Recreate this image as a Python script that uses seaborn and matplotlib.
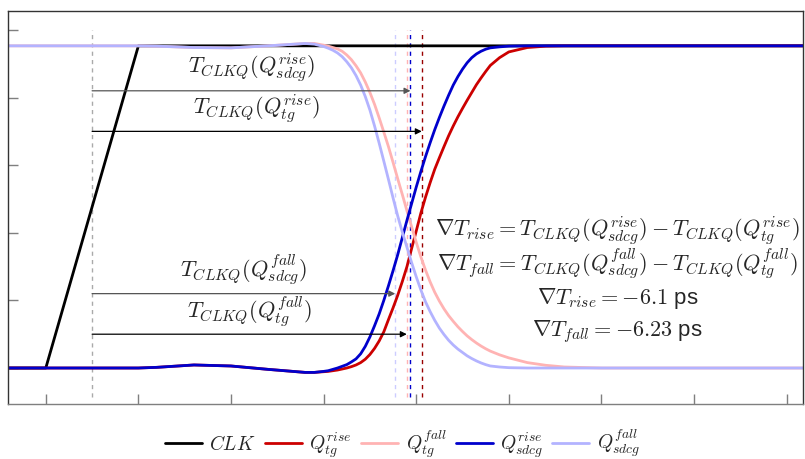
"""CLK-to-Q delay comparison: TG vs SDCG flip-flop waveforms."""

import matplotlib

matplotlib.use("Agg")
import matplotlib.pyplot as plt
import pandas as pd
import seaborn as sns

# time axis (ps) shared by the four Q waveforms
T_GRID = [-20, 0, 50, 60, 80, 100, 120, 140, 145,
          150, 152.5, 155, 157.5, 160, 162.5, 165, 167.5, 170, 172.5, 175, 177.5,
          180, 182.5, 185, 187.5, 190, 192.5, 195, 197.5, 200, 202.5, 205, 207.5,
          210, 212.5, 215, 217.5, 220, 222.5, 225, 227.5, 230, 232.5, 235, 237.5,
          240, 245, 250, 260, 270, 280, 300, 350, 409]

Q_TG_RISE = [0, 0, 0, 0.002, 0.009, 0.006, -0.004, -0.013, -0.013,
             -0.011, -0.010, -0.008, -0.006, -0.003, 0.000, 0.004, 0.009, 0.016,
             0.026, 0.040, 0.058, 0.080, 0.107, 0.143, 0.178, 0.215, 0.256, 0.300,
             0.353, 0.405, 0.458, 0.505, 0.548, 0.588, 0.622, 0.655, 0.687, 0.716,
             0.743, 0.768, 0.792, 0.815, 0.838, 0.858, 0.877, 0.895,
             0.918, 0.935, 0.948, 0.952, 0.953, 0.953, 0.953, 0.953]
Q_TG_FALL = [0.953, 0.953, 0.953, 0.952, 0.948, 0.947, 0.953, 0.960, 0.960,
             0.955, 0.952, 0.948, 0.944, 0.937, 0.926, 0.912, 0.894, 0.873, 0.846,
             0.815, 0.780, 0.740, 0.698, 0.655, 0.608, 0.560, 0.513, 0.465, 0.418,
             0.372, 0.329, 0.290, 0.255, 0.224, 0.198, 0.175, 0.155, 0.138, 0.122,
             0.108, 0.095, 0.084, 0.074, 0.065, 0.057, 0.050,
             0.039, 0.030, 0.016, 0.008, 0.003, 0, 0, 0]
Q_SDCG_RISE = [0, 0, 0, 0.002, 0.009, 0.006, -0.004, -0.013, -0.013,
               -0.010, -0.008, -0.004, 0.000, 0.005, 0.010, 0.018, 0.027, 0.042,
               0.064, 0.092, 0.125, 0.160, 0.200, 0.243, 0.288, 0.335, 0.386, 0.437,
               0.486, 0.535, 0.581, 0.625, 0.666, 0.705, 0.741, 0.775, 0.807, 0.837,
               0.862, 0.884, 0.903, 0.918, 0.929, 0.937, 0.943, 0.947,
               0.950, 0.952, 0.953, 0.953, 0.953, 0.953, 0.953, 0.953]
Q_SDCG_FALL = [0.953, 0.953, 0.953, 0.952, 0.948, 0.947, 0.953, 0.960, 0.958,
               0.951, 0.946, 0.940, 0.932, 0.921, 0.906, 0.888, 0.865, 0.837, 0.803,
               0.763, 0.716, 0.665, 0.612, 0.558, 0.503, 0.450, 0.402, 0.357, 0.312,
               0.270, 0.231, 0.196, 0.167, 0.141, 0.118, 0.099, 0.082, 0.068, 0.056,
               0.046, 0.036, 0.028, 0.021, 0.015, 0.010, 0.006,
               0.003, 0.001, 0, 0, 0, 0, 0, 0]

CLK_T = [-20, 0, 50, 409]
CLK_V = [0, 0, 0.953, 0.953]

# 50 % crossing times (ps)
T50_CLK = 25.0
T50_TG_RISE = 203.0
T50_SDCG_RISE = 196.9
T50_TG_FALL = 194.9
T50_SDCG_FALL = 188.67
DT_RISE = -6.1
DT_FALL = -6.23

LABELS = ["$CLK$", "$Q^{rise}_{tg}$", "$Q^{fall}_{tg}$",
          "$Q^{rise}_{sdcg}$", "$Q^{fall}_{sdcg}$"]
COLORS = ["#000000", "#cc0000", "#ffb3b3", "#0000cc", "#b3b3ff"]


def build_frame() -> pd.DataFrame:
    parts = [pd.DataFrame({"t": CLK_T, "v": CLK_V, "signal": LABELS[0]})]
    for label, values in zip(LABELS[1:], [Q_TG_RISE, Q_TG_FALL, Q_SDCG_RISE, Q_SDCG_FALL]):
        parts.append(pd.DataFrame({"t": T_GRID, "v": values, "signal": label}))
    return pd.concat(parts, ignore_index=True)


def main() -> None:
    sns.set_theme(style="white")
    plt.rcParams["font.family"] = ["Liberation Sans", "DejaVu Sans"]
    plt.rcParams["mathtext.fontset"] = "cm"

    df = build_frame()
    fig = plt.figure(figsize=(8.05, 4.59), dpi=100)
    ax = fig.add_axes([0.0103, 0.1198, 0.9876, 0.8562])

    # dashed 50 % markers
    marks = [(T50_CLK, "#aaaaaa"), (T50_SDCG_FALL, "#ccccff"), (T50_TG_FALL, "#ffb3b3"),
             (T50_SDCG_RISE, "#0000cc"), (T50_TG_RISE, "#990000")]
    for t, c in marks:
        ax.vlines(t, -0.085, 1.0, colors=c, linestyles=(0, (3, 3)), lw=1.0, zorder=1)

    sns.lineplot(data=df, x="t", y="v", hue="signal", palette=dict(zip(LABELS, COLORS)),
                 hue_order=LABELS, estimator=None, sort=False, lw=2.0, ax=ax, zorder=2)

    # delay arrows with labels
    arrows = [
        (T50_SDCG_RISE, 0.82, "#555555", r"$T_{CLKQ}(Q^{rise}_{sdcg})$"),
        (T50_TG_RISE, 0.70, "#000000", r"$T_{CLKQ}(Q^{rise}_{tg})$"),
        (T50_SDCG_FALL, 0.22, "#555555", r"$T_{CLKQ}(Q^{fall}_{sdcg})$"),
        (T50_TG_FALL, 0.10, "#000000", r"$T_{CLKQ}(Q^{fall}_{tg})$"),
    ]
    for t_end, y, c, txt in arrows:
        ax.annotate("", xy=(t_end, y), xytext=(T50_CLK, y),
                    arrowprops=dict(arrowstyle="-|>", color=c, lw=0.9,
                                    mutation_scale=9, shrinkA=0, shrinkB=0), zorder=3)
        ax.annotate(txt, xy=((T50_CLK + t_end) / 2, y), xytext=(0, 16.5),
                    textcoords="offset points", ha="center", va="center", fontsize=16)

    block = [
        r"$\nabla T_{rise} = T_{CLKQ}(Q^{rise}_{sdcg}) - T_{CLKQ}(Q^{rise}_{tg})$",
        r"$\nabla T_{fall} = T_{CLKQ}(Q^{fall}_{sdcg}) - T_{CLKQ}(Q^{fall}_{tg})$",
        rf"$\nabla T_{{rise}} = {DT_RISE}$ ps",
        rf"$\nabla T_{{fall}} = {DT_FALL}$ ps",
    ]
    for line, y in zip(block, [0.405, 0.305, 0.207, 0.107]):
        ax.text(308.6, y, line, ha="center", va="center", fontsize=16)

    ax.set_xlim(-20.25, 409)
    ax.set_ylim(-0.1065, 1.056)
    ax.set_xticks(range(0, 401, 50))
    ax.set_yticks([0, 0.2, 0.4, 0.6, 0.8, 1.0])
    ax.set_xticklabels([])
    ax.set_yticklabels([])
    ax.set_xlabel("")
    ax.set_ylabel("")
    ax.tick_params(direction="in", length=7, width=1, color="#7f7f7f",
                   bottom=True, left=True)
    for name, sp in ax.spines.items():
        sp.set_color("#7f7f7f" if name == "bottom" else "#333333")
        sp.set_linewidth(1.0)

    handles, labels = ax.get_legend_handles_labels()
    ax.get_legend().remove()
    fig.legend(handles, labels, loc="center", bbox_to_anchor=(0.5, 0.033), ncol=5,
               frameon=False, fontsize=14, handlelength=1.9, handletextpad=0.4,
               columnspacing=0.45)

    fig.savefig("out.png", dpi=100)
    plt.close(fig)


if __name__ == "__main__":
    main()
